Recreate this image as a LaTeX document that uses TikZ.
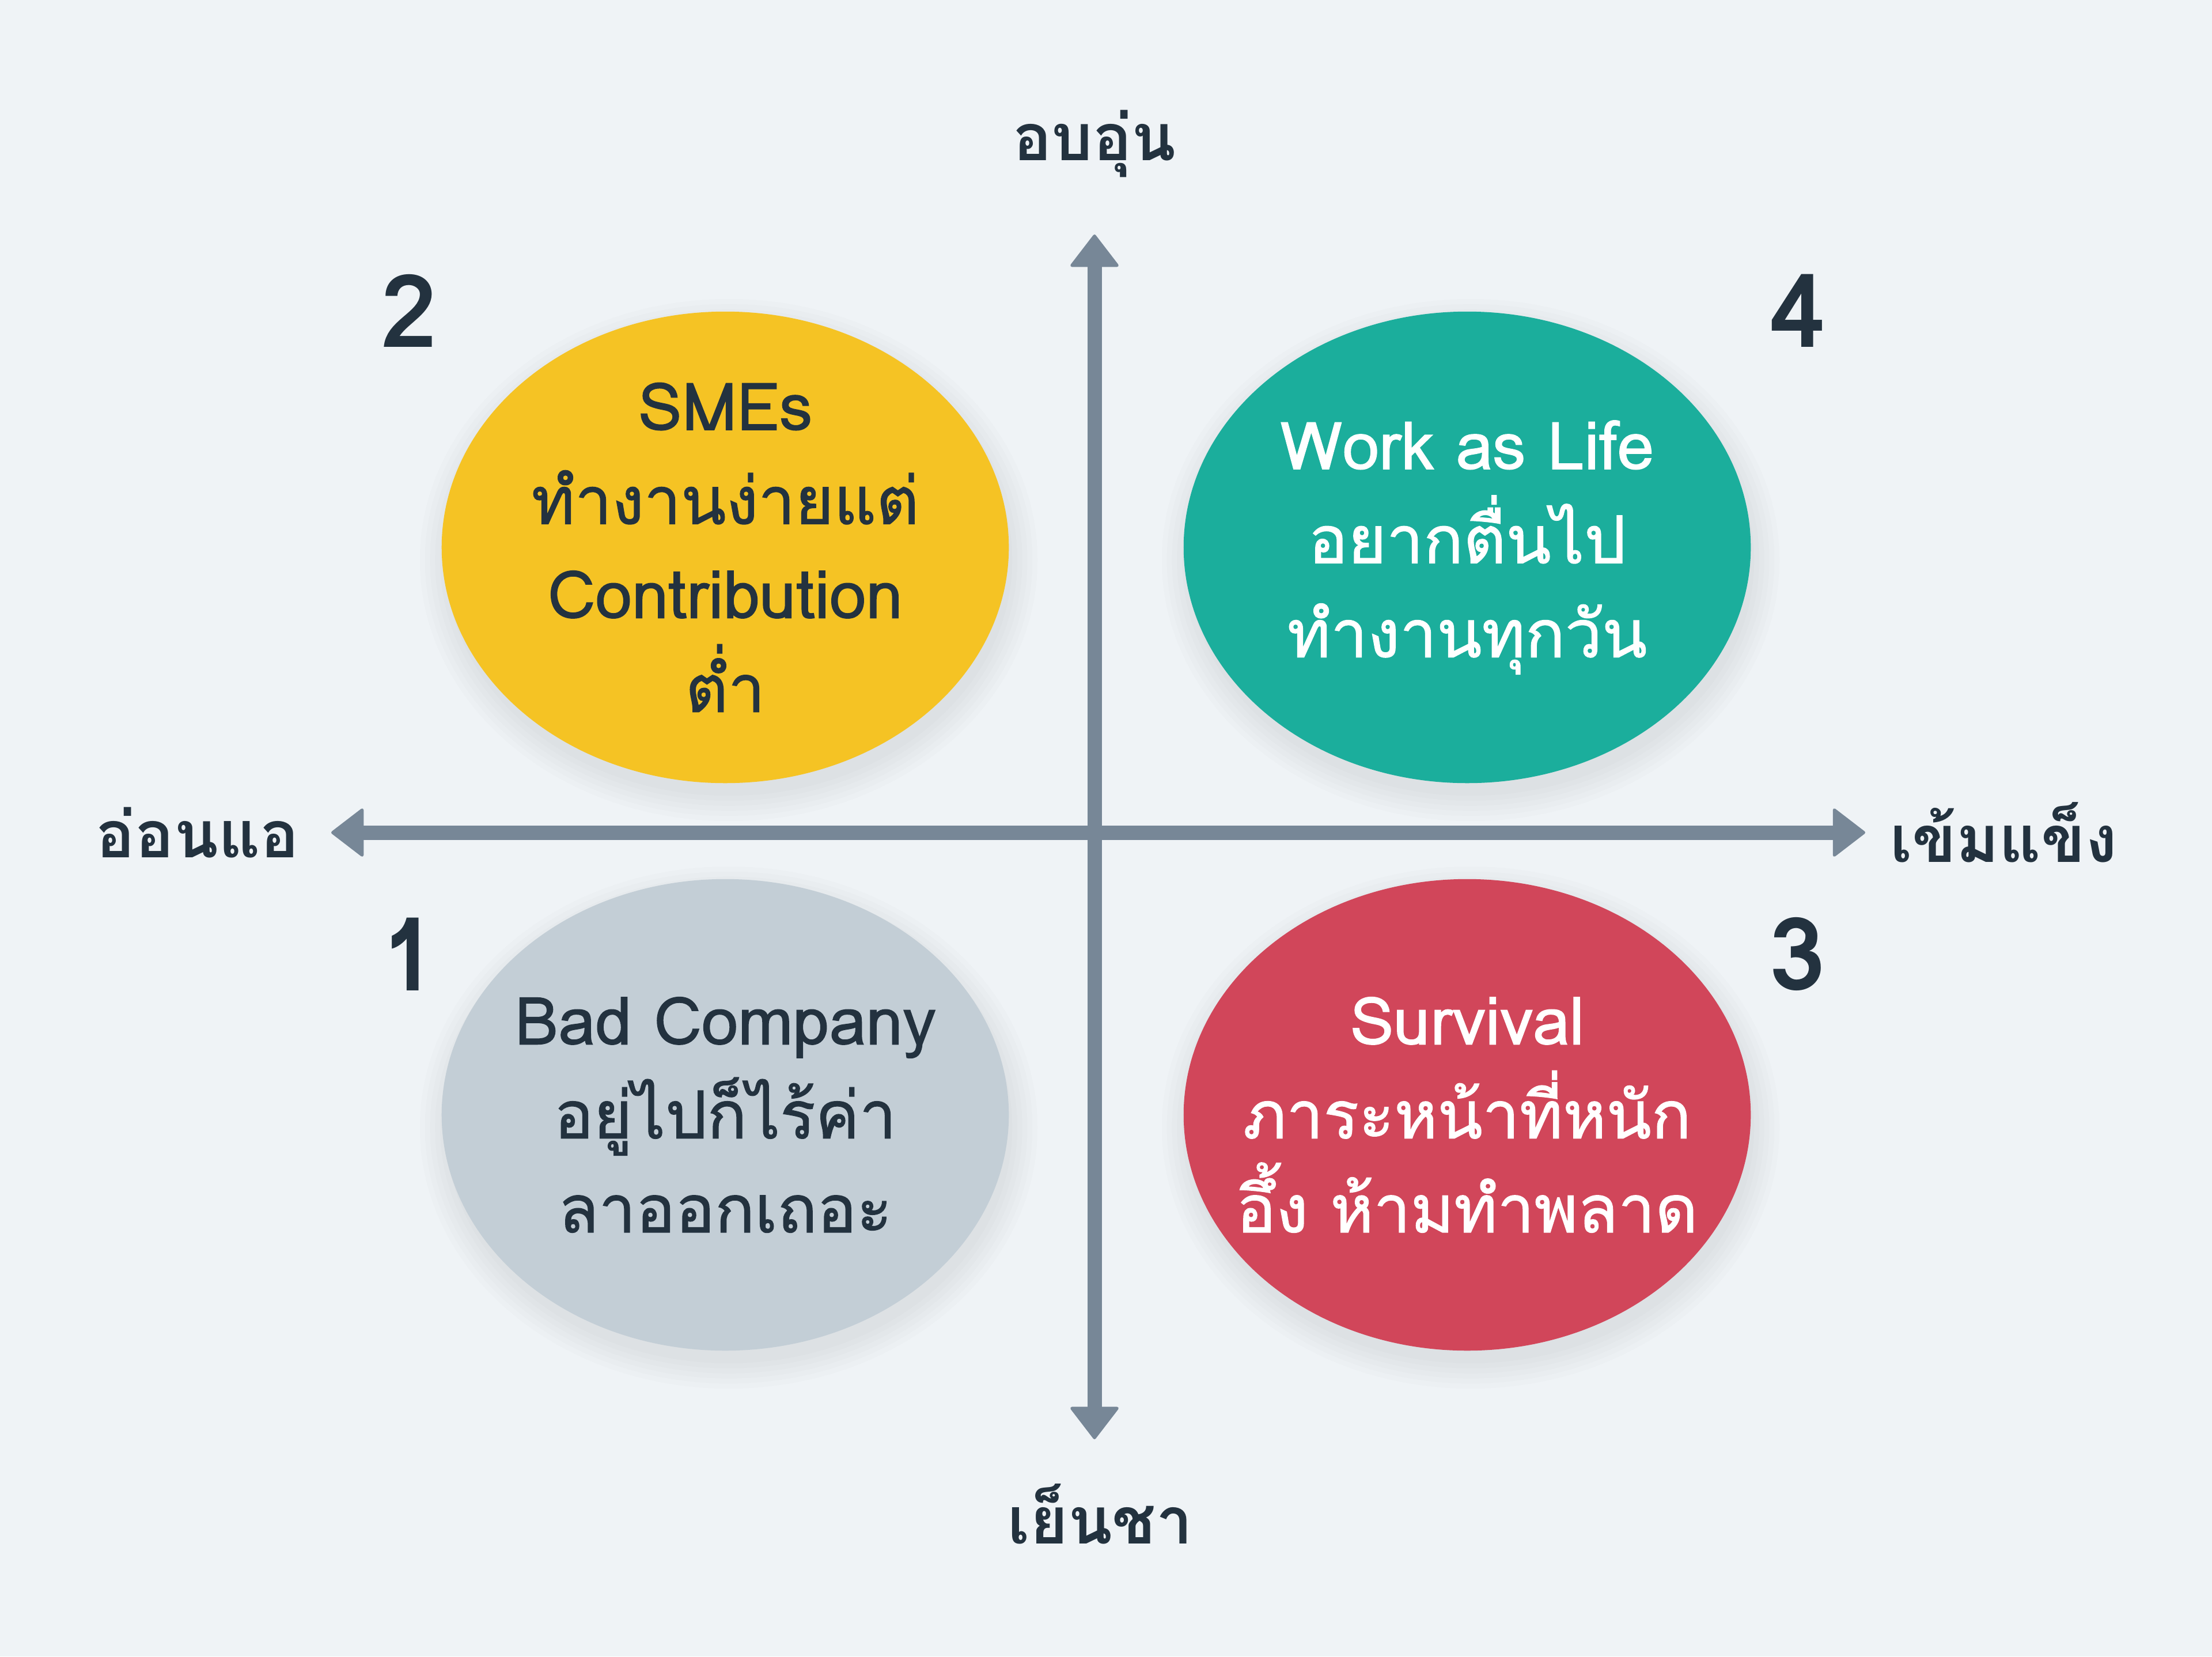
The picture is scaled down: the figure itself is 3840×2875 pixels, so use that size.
\documentclass[tikz,border=0pt]{standalone}
\usepackage{fontspec}
\setmainfont{Loma}[Script=Thai]
\newfontfamily\blobfont{Loma}[Script=Thai,FakeBold=1.2]
\usetikzlibrary{arrows.meta,shapes.geometric}
\definecolor{bg}{HTML}{EFF3F6}
\definecolor{axisc}{HTML}{778797}
\definecolor{ink}{HTML}{23323F}
\definecolor{cyellow}{HTML}{F5C324}
\definecolor{cteal}{HTML}{1BAE9C}
\definecolor{cgrey}{HTML}{C3CED6}
\definecolor{cred}{HTML}{D1465A}
\tikzset{
  axishead/.tip={Triangle[width=25pt,length=16.5pt,round,line width=1.5pt]},
  axisline/.style={draw=axisc, line width=7.1pt, axishead-axishead},
  blob/.style={ellipse, minimum width=9.84cm, minimum height=8.18cm, inner sep=0pt, fill=#1},
  shade/.style={ellipse, inner sep=0pt, fill=black, fill opacity=0.013},
  blobtext/.style={align=center, font=\blobfont\fontsize{32.5pt}{46.4pt}\selectfont, text=#1},
  axislabel/.style={text=ink, font=\fontsize{32pt}{38pt}\bfseries\selectfont},
  quadnum/.style={text=ink, font=\fontsize{50pt}{60pt}\bfseries\selectfont},
}
\begin{document}
\begin{tikzpicture}[x=0.01cm,y=-0.01cm]
\fill[bg] (0,0) rectangle (3840,2875);
\useasboundingbox (0,0) rectangle (3840,2875);

% shadows
\foreach \cx/\cy in {1259/950,2547/950,1259/1935,2547/1935}{
  \foreach \g in {0,5,10,15,20,25}{
    \node[shade, minimum width=9.84cm+\g pt, minimum height=8.18cm+\g pt] at (\cx+6,\cy+22) {};
  }
}

% ellipses
\node[blob=cyellow] (e2) at (1259,950) {};
\node[blob=cteal]   (e4) at (2547,950) {};
\node[blob=cgrey]   (e1) at (1259,1935) {};
\node[blob=cred]    (e3) at (2547,1935) {};

\node[blobtext=ink]   (t2) at (e2.center) {SMEs\\ทำงานง่ายแต่\\Contribution\\ต่ำ};
\node[blobtext=white] (t4) at (e4.center) {Work as Life\\อยากตื่นไป\\ทำงานทุกวัน};
\node[blobtext=ink]   (t1) at (e1.center) {Bad Company\\อยู่ไปก็ไร้ค่า\\ลาออกเถอะ};
\node[blobtext=white] (t3) at (e3.center) {Survival\\ภาระหน้าที่หนัก\\อึ้ง ห้ามทำพลาด};

% axes
\coordinate (top) at (1900,407);
\coordinate (bottom) at (1900,2498);
\coordinate (left) at (575,1445);
\coordinate (right) at (3238,1445);
\draw[axisline] (left) -- (right);
\draw[axisline] (bottom) -- (top);

% axis labels
\node[axislabel] (lt) at (1900,250) {อบอุ่น};
\node[axislabel] (lb) at (1910,2628) {เย็นชา};
\node[axislabel] (ll) at (343,1445) {อ่อนแอ};
\node[axislabel] (lr) at (3478,1445) {เข้มแข็ง};

% quadrant numbers
\node[quadnum] (n2) at (710,539) {2};
\node[quadnum] (n4) at (3120,539) {4};
\node[quadnum] (n1) at (710,1656) {1};
\node[quadnum] (n3) at (3120,1656) {3};
\end{tikzpicture}
\end{document}
